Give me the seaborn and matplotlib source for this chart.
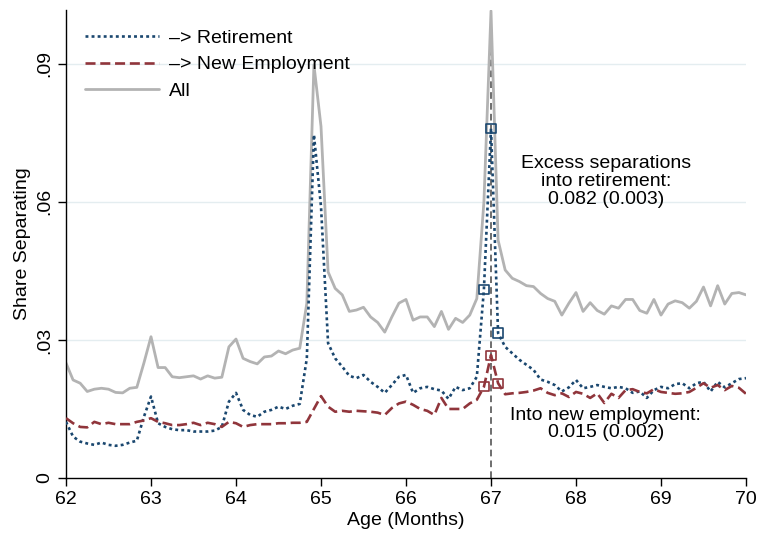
import numpy as np
import pandas as pd
import matplotlib
matplotlib.use("Agg")
import matplotlib.pyplot as plt
import seaborn as sns

# ---------------- data (monthly, age 62y0m .. 70y0m) ----------------
retirement = [
    0.0122, 0.0090, 0.0079, 0.0075, 0.0072, 0.0077, 0.0072, 0.0070, 0.0072, 0.0077, 0.0081, 0.0133,
    0.0177, 0.0119, 0.0111, 0.0106, 0.0104, 0.0104, 0.0101, 0.0101, 0.0101, 0.0103, 0.0111, 0.0166,
    0.0185, 0.0148, 0.0137, 0.0133, 0.0144, 0.0148, 0.0155, 0.0150, 0.0157, 0.0161, 0.0260, 0.0746,
    0.0590, 0.0293, 0.0260, 0.0242, 0.0222, 0.0217, 0.0224, 0.0209, 0.0198, 0.0185, 0.0202, 0.0220,
    0.0224, 0.0185, 0.0195, 0.0198, 0.0193, 0.0190, 0.0172, 0.0198, 0.0191, 0.0195, 0.0220, 0.0410,
    0.0760, 0.0315, 0.0285, 0.0271, 0.0257, 0.0246, 0.0235, 0.0214, 0.0209, 0.0202, 0.0188, 0.0197,
    0.0213, 0.0195, 0.0198, 0.0202, 0.0198, 0.0195, 0.0198, 0.0195, 0.0185, 0.0188, 0.0174, 0.0191,
    0.0198, 0.0195, 0.0204, 0.0206, 0.0195, 0.0206, 0.0209, 0.0188, 0.0209, 0.0197, 0.0206, 0.0215,
    0.0217]

new_employment = [
    0.0130, 0.0119, 0.0111, 0.0110, 0.0122, 0.0117, 0.0120, 0.0117, 0.0117, 0.0117, 0.0122, 0.0125,
    0.0130, 0.0122, 0.0119, 0.0115, 0.0115, 0.0117, 0.0120, 0.0115, 0.0120, 0.0117, 0.0111, 0.0122,
    0.0119, 0.0111, 0.0115, 0.0117, 0.0117, 0.0117, 0.0119, 0.0119, 0.0120, 0.0120, 0.0122, 0.0150,
    0.0178, 0.0155, 0.0144, 0.0146, 0.0144, 0.0146, 0.0145, 0.0144, 0.0142, 0.0137, 0.0152, 0.0162,
    0.0166, 0.0159, 0.0150, 0.0146, 0.0137, 0.0174, 0.0150, 0.0150, 0.0150, 0.0162, 0.0170, 0.0198,
    0.0267, 0.0206, 0.0182, 0.0184, 0.0185, 0.0187, 0.0190, 0.0195, 0.0185, 0.0180, 0.0184, 0.0176,
    0.0187, 0.0183, 0.0174, 0.0184, 0.0163, 0.0183, 0.0174, 0.0191, 0.0193, 0.0187, 0.0184, 0.0193,
    0.0187, 0.0185, 0.0183, 0.0184, 0.0187, 0.0196, 0.0206, 0.0196, 0.0202, 0.0191, 0.0200, 0.0196,
    0.0183]

all_sep = [
    0.0250, 0.0213, 0.0206, 0.0188, 0.0193, 0.0195, 0.0193, 0.0186, 0.0185, 0.0195, 0.0197, 0.0250,
    0.0307, 0.0240, 0.0240, 0.0220, 0.0218, 0.0220, 0.0222, 0.0215, 0.0222, 0.0217, 0.0219, 0.0285,
    0.0302, 0.0260, 0.0253, 0.0248, 0.0263, 0.0265, 0.0276, 0.0270, 0.0278, 0.0282, 0.0380, 0.0898,
    0.0764, 0.0448, 0.0412, 0.0398, 0.0362, 0.0365, 0.0371, 0.0350, 0.0338, 0.0317, 0.0350, 0.0380,
    0.0388, 0.0343, 0.0350, 0.0350, 0.0329, 0.0362, 0.0323, 0.0347, 0.0338, 0.0354, 0.0390, 0.0600,
    0.1015, 0.0517, 0.0452, 0.0434, 0.0427, 0.0418, 0.0416, 0.0401, 0.0390, 0.0384, 0.0354, 0.0380,
    0.0403, 0.0362, 0.0381, 0.0364, 0.0356, 0.0374, 0.0369, 0.0388, 0.0388, 0.0364, 0.0358, 0.0388,
    0.0354, 0.0378, 0.0385, 0.0381, 0.0369, 0.0384, 0.0415, 0.0374, 0.0418, 0.0378, 0.0401, 0.0403,
    0.0398]

age_months = 62 + np.arange(len(all_sep)) / 12.0
highlight_idx = [59, 60, 61]          # months around 67 marked with squares
x_ticks = [62, 63, 64, 65, 66, 67, 68, 69, 70]
y_ticks = [0, 0.03, 0.06, 0.09]
y_tick_labels = ["0", ".03", ".06", ".09"]
series_labels = ["\u2013> Retirement", "\u2013> New Employment", "All"]
note_ret = "Excess separations\ninto retirement:\n0.082 (0.003)"
note_new = "Into new employment:\n0.015 (0.002)"

df = pd.DataFrame({"age": age_months, "ret": retirement,
                   "new": new_employment, "all": all_sep})
hl = df.iloc[highlight_idx]

# ---------------- style ----------------
sns.set_style("white")
plt.rcParams["font.family"] = ["Liberation Sans", "DejaVu Sans"]
plt.rcParams["text.color"] = "black"
plt.rcParams["axes.labelcolor"] = "black"
plt.rcParams["xtick.color"] = "black"
plt.rcParams["ytick.color"] = "black"

BLUE = "#1a476f"
RED = "#90353b"
GRAY = "#b3b3b3"

fig = plt.figure(figsize=(7.58, 5.33), dpi=100)
ax = fig.add_axes([66 / 758, 1 - 478 / 533, (746 - 66) / 758, (478 - 10) / 533])

for yv in y_ticks[1:]:
    ax.axhline(yv, color="#e4edf0", lw=1.0, zorder=0)

sns.lineplot(data=df, x="age", y="all", ax=ax, color=GRAY, lw=2.0,
             label=series_labels[2], zorder=2)
sns.lineplot(data=df, x="age", y="ret", ax=ax, color=BLUE, lw=1.9,
             label=series_labels[0], zorder=3)
sns.lineplot(data=df, x="age", y="new", ax=ax, color=RED, lw=1.9,
             label=series_labels[1], zorder=3)
lines = ax.get_lines()
l_all, l_ret, l_new = lines[-3], lines[-2], lines[-1]
l_ret.set_dashes((1.1, 1.2))
l_new.set_dashes((3.8, 1.8))

sns.scatterplot(data=hl, x="age", y="ret", ax=ax, marker="s", s=44,
                facecolor="none", edgecolor=BLUE, linewidth=1.2, zorder=4, legend=False)
sns.scatterplot(data=hl, x="age", y="new", ax=ax, marker="s", s=44,
                facecolor="none", edgecolor=RED, linewidth=1.2, zorder=4, legend=False)

ax.axvline(67, color="#555555", lw=1.2, dashes=(4, 2.5), zorder=1)

ax.set_xlim(62, 70)
ax.set_ylim(0, 0.1017)
ax.set_xticks(x_ticks)
ax.set_xticklabels([str(t) for t in x_ticks])
ax.set_yticks(y_ticks)
ax.set_yticklabels(y_tick_labels, rotation=90, va="center")
ax.tick_params(axis="both", direction="out", length=6, width=1, color="black",
               labelcolor="black", labelsize=14, pad=3, bottom=True, left=True)
ax.set_xlabel("Age (Months)", fontsize=14, labelpad=3, color="black")
ax.set_ylabel("Share Separating", fontsize=14, labelpad=4, color="black")

for s in ["top", "right"]:
    ax.spines[s].set_visible(False)
for s in ["left", "bottom"]:
    ax.spines[s].set_color("black")
    ax.spines[s].set_linewidth(1.0)

ax.text(68.35, 0.0644, note_ret, ha="center", va="center", fontsize=14,
        linespacing=1.08, color="black")
ax.text(68.35, 0.0117, note_new, ha="center", va="center", fontsize=14,
        linespacing=1.05, color="black")

handles = [l_ret, l_new, l_all]
leg = ax.legend(handles=handles, labels=series_labels, loc="upper left",
                frameon=False, fontsize=14, handlelength=3.8, handletextpad=0.5,
                labelspacing=0.45, bbox_to_anchor=(0.0, 1.0), borderaxespad=0.6)
for t in leg.get_texts():
    t.set_color("black")

fig.savefig("out.png", dpi=100)
